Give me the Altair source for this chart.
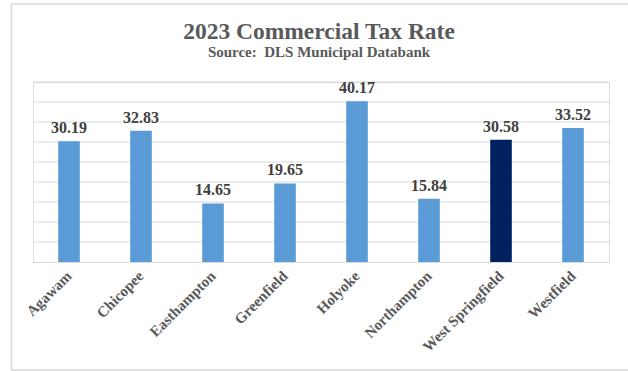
import altair as alt
import pandas as pd

towns = ["Agawam", "Chicopee", "Easthampton", "Greenfield", "Holyoke",
         "Northampton", "West Springfield", "Westfield"]
rates = [30.19, 32.83, 14.65, 19.65, 40.17, 15.84, 30.58, 33.52]
highlight = ["West Springfield"]
title_text = ["2023 Commercial Tax Rate"]
subtitle_text = ["Source:\u00a0 DLS Municipal Databank"]
grid_values = [5, 10, 15, 20, 25, 30, 35, 40, 45]

df = pd.DataFrame({"town": towns, "rate": rates})
df["label"] = df["rate"].map(lambda v: f"{v:.2f}")
df["hl"] = df["town"].isin(highlight)

FONT = "Liberation Serif"
YSCALE = alt.Scale(domain=[0, 45], nice=False)

x = alt.X("town:N", sort=towns, title=None,
          scale=alt.Scale(paddingInner=0.7, paddingOuter=0.35),
          axis=alt.Axis(labelAngle=-45, labelAlign="right", labelBaseline="middle",
                        labelFont=FONT, labelFontSize=15, labelFontWeight="bold",
                        labelColor="#595959", labelPadding=11, ticks=False,
                        domainColor="#D9D9D9", domainWidth=1))
y = alt.Y("rate:Q", title=None, scale=YSCALE, axis=None)

grid = alt.Chart(pd.DataFrame({"g": grid_values})).mark_rule(
    color="#D9D9D9", strokeWidth=1).encode(
    y=alt.Y("g:Q", scale=YSCALE, axis=None),
    x=alt.value(0), x2=alt.value(576))

base = alt.Chart(df)

bars = base.mark_bar().encode(
    x=x, y=y,
    color=alt.condition(alt.datum.hl, alt.value("#002060"), alt.value("#5B9BD5")),
)

labels = base.mark_text(dy=-13, font=FONT, fontSize=16, fontWeight="bold",
                        color="#404040").encode(
    x=alt.X("town:N", sort=towns), y="rate:Q", text="label:N")

title = alt.Chart(pd.DataFrame({"t": title_text})).mark_text(
    font=FONT, fontSize=23.5, fontWeight="bold", color="#595959",
    align="center", baseline="alphabetic").encode(
    text="t:N", x=alt.value(286), y=alt.value(-43))

subtitle = alt.Chart(pd.DataFrame({"t": subtitle_text})).mark_text(
    font=FONT, fontSize=15, fontWeight="bold", color="#595959",
    align="center", baseline="alphabetic").encode(
    text="t:N", x=alt.value(286), y=alt.value(-25))

# outer chart border (decorative frame)
fdf = pd.DataFrame({"a": [0]})
frame_top = alt.Chart(fdf).mark_rule(color="#D9D9D9", strokeWidth=1.5, clip=False).encode(
    x=alt.value(-21.5), x2=alt.value(600), y=alt.value(-78))
frame_left = alt.Chart(fdf).mark_rule(color="#D9D9D9", strokeWidth=1.5, clip=False).encode(
    x=alt.value(-21.5), y=alt.value(-78), y2=alt.value(288))
frame_bottom = alt.Chart(fdf).mark_rule(color="#D9D9D9", strokeWidth=1.5, clip=False).encode(
    x=alt.value(-21.5), x2=alt.value(600), y=alt.value(288))

chart = alt.layer(frame_top, frame_left, frame_bottom, title, subtitle, grid, bars, labels).properties(
    width=576, height=180,
    autosize=alt.AutoSizeParams(type="none"),
    padding={"left": 33, "top": 82, "right": 19, "bottom": 109},
).configure_view(stroke=None).configure(background="white")

chart.save("out.html", embed_options={"renderer": "svg", "actions": False})
